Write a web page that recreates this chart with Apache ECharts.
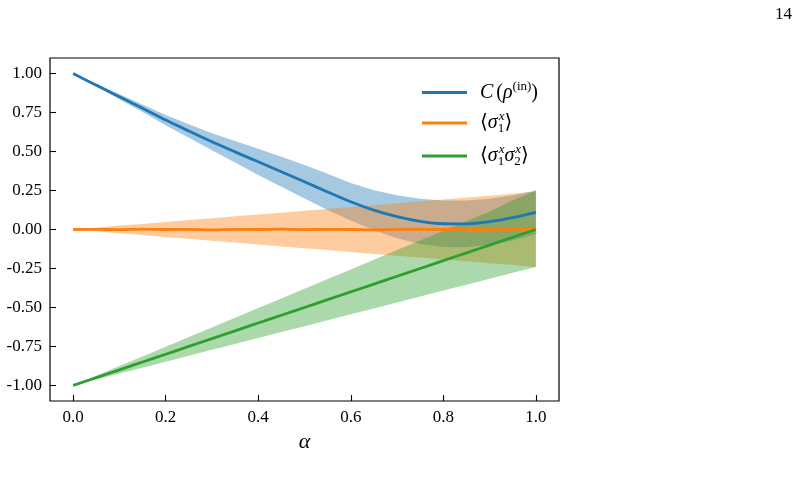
<!DOCTYPE html>
<html>
<head>
<meta charset="utf-8">
<script src="https://cdn.jsdelivr.net/npm/echarts@6/dist/echarts.min.js"></script>
<style>html,body{margin:0;padding:0;background:#fff;}#c{width:800px;height:485px;}</style>
</head>
<body>
<div id="c"></div>
<script>
const alpha = [0,0.05,0.10,0.15,0.20,0.25,0.30,0.35,0.40,0.45,0.50,0.55,0.60,0.65,0.70,0.75,0.80,0.85,0.90,0.95,1.00];
const coherence      = [1.00,0.926,0.852,0.777,0.702,0.632,0.563,0.498,0.434,0.37,0.306,0.241,0.178,0.124,0.082,0.052,0.037,0.036,0.05,0.076,0.11];
const coherenceUpper = [1.00,0.934,0.868,0.801,0.735,0.675,0.617,0.567,0.518,0.466,0.413,0.357,0.298,0.252,0.22,0.197,0.186,0.186,0.198,0.22,0.25];
const coherenceLower = [1.00,0.918,0.836,0.753,0.668,0.589,0.508,0.43,0.35,0.274,0.199,0.125,0.058,-0.005,-0.056,-0.093,-0.112,-0.114,-0.098,-0.07,-0.03];
const sx1      = [0,0.001,-0.001,0.002,0,0.001,-0.002,0.001,0,0.002,-0.001,0.001,0,-0.002,0.001,0.002,0,0.001,-0.001,0.002,0];
const sx1Upper = [0,0.012,0.025,0.036,0.048,0.061,0.072,0.085,0.097,0.108,0.12,0.132,0.145,0.156,0.168,0.181,0.192,0.205,0.216,0.229,0.243];
const sx1Lower = [0,-0.012,-0.024,-0.036,-0.049,-0.06,-0.072,-0.084,-0.096,-0.109,-0.12,-0.132,-0.144,-0.157,-0.168,-0.18,-0.193,-0.204,-0.216,-0.228,-0.24];
const sx1sx2      = [-1.00,-0.95,-0.90,-0.85,-0.80,-0.75,-0.70,-0.65,-0.60,-0.55,-0.50,-0.45,-0.40,-0.35,-0.30,-0.25,-0.20,-0.15,-0.10,-0.05,0.00];
const sx1sx2Upper = [-1.00,-0.938,-0.876,-0.814,-0.752,-0.69,-0.628,-0.566,-0.504,-0.442,-0.38,-0.318,-0.256,-0.194,-0.132,-0.07,-0.008,0.054,0.116,0.188,0.25];
const sx1sx2Lower = [-1.00,-0.962,-0.924,-0.886,-0.848,-0.81,-0.772,-0.734,-0.696,-0.658,-0.62,-0.582,-0.544,-0.506,-0.468,-0.43,-0.392,-0.354,-0.316,-0.278,-0.24];
const xTicks = [0,0.2,0.4,0.6,0.8,1.0];
const yTicks = [-1,-0.75,-0.5,-0.25,0,0.25,0.5,0.75,1];
const names = ['coh','sx1','sx1sx2'];
const colors = ['#1f77b4','#ff7f0e','#2ca02c'];
const bandFills = ['rgba(31,119,180,0.4)','rgba(255,127,14,0.4)','rgba(44,160,44,0.4)'];

const serif = "'Liberation Serif','DejaVu Serif',serif";

function band(lower, upper, fill) {
  return {
    type: 'custom', silent: true, z: 1, clip: true,
    data: alpha.map((a, i) => [a, lower[i], upper[i]]),
    encode: {x: 0, y: [1, 2]},
    renderItem: function (params, api) {
      if (params.dataIndex !== 0) return null;
      const pts = [];
      for (let i = 0; i < alpha.length; i++) pts.push(api.coord([alpha[i], upper[i]]));
      for (let i = alpha.length - 1; i >= 0; i--) pts.push(api.coord([alpha[i], lower[i]]));
      return {type: 'polygon', shape: {points: pts}, style: {fill: fill, stroke: null}};
    }
  };
}
function line(name, vals, color) {
  return {
    name: name, type: 'line', z: 3, symbol: 'none', smooth: 0.3,
    data: alpha.map((a, i) => [a, vals[i]]),
    lineStyle: {color: color, width: 2.8}, itemStyle: {color: color}
  };
}

const chart = echarts.init(document.getElementById('c'), null, {renderer: 'canvas'});
chart.setOption({
  animation: false,
  backgroundColor: '#fff',
  grid: {left: 50, top: 58, right: 241, bottom: 84, show: true, borderColor: '#000', borderWidth: 1.2, backgroundColor: 'transparent'},
  xAxis: {
    type: 'value', min: -0.05, max: 1.05,
    name: 'α', nameLocation: 'middle', nameGap: 30,
    nameTextStyle: {fontFamily: serif, fontStyle: 'italic', fontSize: 22, color: '#000'},
    axisLine: {show: false, onZero: false},
    axisTick: {show: true, inside: true, length: 6, lineStyle: {color: '#000', width: 1.1}, customValues: xTicks},
    axisLabel: {customValues: xTicks, formatter: v => v.toFixed(1), fontFamily: serif, fontSize: 17, color: '#000', margin: 8},
    splitLine: {show: false}
  },
  yAxis: {
    type: 'value', min: -1.1, max: 1.1,
    axisLine: {show: false, onZero: false},
    axisTick: {show: true, inside: true, length: 6, lineStyle: {color: '#000', width: 1.1}, customValues: yTicks},
    axisLabel: {customValues: yTicks, formatter: v => v.toFixed(2), fontFamily: serif, fontSize: 17, color: '#000', margin: 8},
    splitLine: {show: false}
  },
  legend: {
    data: names, orient: 'vertical', left: 417, top: 75, itemGap: 8,
    icon: 'rect', itemWidth: 45, itemHeight: 3,
    formatter: function (n) {
      if (n === 'coh') return '{c|C}{p|(}{i|ρ}{su|(in)}{p|)}';
      if (n === 'sx1') return '{p|⟨}{i|σ}{sb|1}{sp|x}{p|⟩}';
      return '{p|⟨}{i|σ}{sb|1}{sp|x}{i|σ}{sb|2}{sp|x}{p|⟩}';
    },
    textStyle: {
      fontFamily: serif, fontSize: 20, color: '#000', padding: [0, 0, 0, 8],
      rich: {
        c: {fontFamily: serif, fontStyle: 'italic', fontSize: 20, lineHeight: 25, padding: [0, 3, 0, 0]},
        p: {fontFamily: serif, fontSize: 20, lineHeight: 25},
        i: {fontFamily: serif, fontStyle: 'italic', fontSize: 20, lineHeight: 25},
        su: {fontFamily: serif, fontSize: 13, lineHeight: 25, verticalAlign: 'top'},
        sp: {fontFamily: serif, fontStyle: 'italic', fontSize: 13, lineHeight: 25, verticalAlign: 'top'},
        sb: {fontFamily: serif, fontSize: 13, lineHeight: 25, verticalAlign: 'bottom', width: 1}
      }
    }
  },
  graphic: [{type: 'text', right: 8, top: 6, style: {text: '14', fontFamily: serif, fontSize: 17, fill: '#000'}}],
  series: [
    band(coherenceLower, coherenceUpper, bandFills[0]),
    band(sx1Lower, sx1Upper, bandFills[1]),
    band(sx1sx2Lower, sx1sx2Upper, bandFills[2]),
    line('coh', coherence, colors[0]),
    line('sx1', sx1, colors[1]),
    line('sx1sx2', sx1sx2, colors[2])
  ]
});
</script>
</body>
</html>
